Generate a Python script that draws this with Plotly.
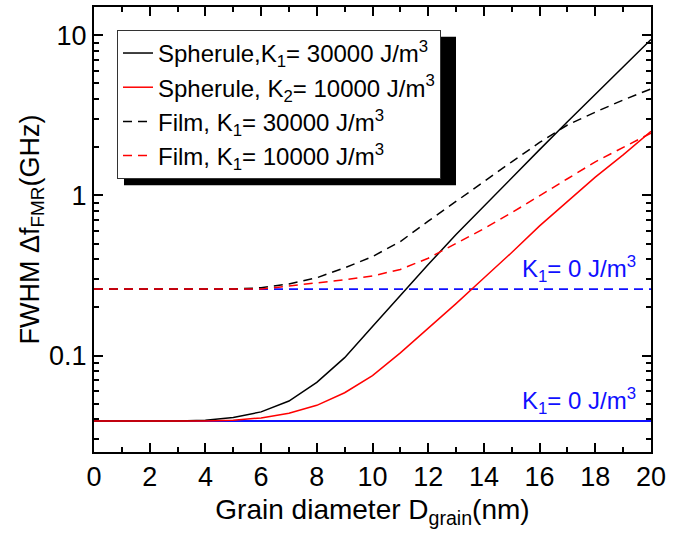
import math
import plotly.graph_objects as go

# Grain diameter (nm)
d_grain = list(range(0, 21))

# FWHM (GHz)
sph_k30000 = [0.039, 0.039, 0.039, 0.039, 0.0395, 0.041, 0.0445, 0.052, 0.068, 0.097,
              0.152, 0.239, 0.37, 0.57, 0.86, 1.29, 1.93, 2.88, 4.27, 6.3, 9.4]
sph_k10000 = [0.039, 0.039, 0.039, 0.039, 0.039, 0.0395, 0.0408, 0.0436, 0.0489, 0.0586,
              0.075, 0.104, 0.148, 0.211, 0.305, 0.44, 0.645, 0.92, 1.30, 1.79, 2.51]
film_k30000 = [0.26, 0.26, 0.26, 0.26, 0.26, 0.26, 0.265, 0.28, 0.306, 0.353,
               0.415, 0.515, 0.69, 0.92, 1.23, 1.62, 2.14, 2.75, 3.31, 3.94, 4.62]
film_k10000 = [0.26, 0.26, 0.26, 0.26, 0.26, 0.26, 0.26, 0.272, 0.283, 0.297,
               0.314, 0.345, 0.405, 0.50, 0.62, 0.78, 0.99, 1.27, 1.62, 2.0, 2.45]

# K1 = 0 reference levels
ref_x = [0, 20]
sph_k0 = 0.039
film_k0 = 0.26

FONT = "Liberation Sans, Arial, sans-serif"

fig = go.Figure()
fig.add_trace(go.Scatter(x=ref_x, y=[sph_k0, sph_k0], mode="lines",
                         line=dict(color="#1010ff", width=2), showlegend=False))
fig.add_trace(go.Scatter(x=ref_x, y=[film_k0, film_k0], mode="lines",
                         line=dict(color="#1010ff", width=1.7, dash="9px,6px"), showlegend=False))
fig.add_trace(go.Scatter(x=d_grain, y=sph_k30000, mode="lines",
                         name="Spherule,K<sub>1</sub>= 30000 J/m<sup>3</sup>",
                         line=dict(color="black", width=1.5)))
fig.add_trace(go.Scatter(x=d_grain, y=sph_k10000, mode="lines",
                         name="Spherule, K<sub>2</sub>= 10000 J/m<sup>3</sup>",
                         line=dict(color="red", width=1.5)))
fig.add_trace(go.Scatter(x=d_grain, y=film_k30000, mode="lines",
                         name="Film, K<sub>1</sub>= 30000 J/m<sup>3</sup>",
                         line=dict(color="black", width=1.5, dash="9px,6px")))
fig.add_trace(go.Scatter(x=d_grain, y=film_k10000, mode="lines",
                         name="Film, K<sub>1</sub>= 10000 J/m<sup>3</sup>",
                         line=dict(color="red", width=1.5, dash="9px,6px")))

for lvl in (sph_k0, film_k0):
    fig.add_annotation(x=19.55, y=math.log10(lvl), xref="x", yref="y",
                       text="K<sub>1</sub>= 0 J/m<sup>3</sup>", showarrow=False,
                       xanchor="right", yanchor="bottom", yshift=1,
                       font=dict(family=FONT, size=24, color="#1010ff"))

minor_y = [v * 10 ** e for e in (-2, -1, 0, 1) for v in range(2, 10)]
minor_y = [v for v in minor_y if 0.025 <= v <= 15]

fig.update_xaxes(range=[0, 20], tickvals=list(range(0, 21, 2)),
                 ticks="inside", ticklen=9, tickwidth=1.5, tickcolor="black",
                 showline=True, linewidth=2, linecolor="black", mirror="allticks",
                 showgrid=False, zeroline=False,
                 minor=dict(dtick=1, ticks="inside", ticklen=5, tickwidth=1.5, tickcolor="black", showgrid=False),
                 tickfont=dict(family=FONT, size=27, color="black"),
                 title=dict(text="Grain diameter D<sub>grain</sub>(nm)",
                            font=dict(family=FONT, size=28, color="black"), standoff=8))
fig.update_yaxes(type="log", range=[math.log10(0.025), math.log10(15)],
                 tickvals=[0.1, 1, 10], ticktext=["0.1", "1", "10"],
                 ticks="inside", ticklen=9, tickwidth=1.5, tickcolor="black",
                 showline=True, linewidth=2, linecolor="black", mirror="allticks",
                 showgrid=False, zeroline=False,
                 minor=dict(tickvals=minor_y, ticks="inside", ticklen=5, tickwidth=1.5, tickcolor="black", showgrid=False),
                 tickfont=dict(family=FONT, size=27, color="black"),
                 title=dict(text="FWHM \u0394f<sub>FMR</sub>(GHz)",
                            font=dict(family=FONT, size=27, color="black"), standoff=2))

fig.update_layout(
    width=695, height=539,
    margin=dict(l=94, r=44, t=5, b=87),
    plot_bgcolor="white", paper_bgcolor="white",
    font=dict(family=FONT, color="black"),
    legend=dict(x=0.0413, y=0.9485, xanchor="left", yanchor="top",
                bgcolor="white", bordercolor="#333333", borderwidth=1,
                font=dict(family=FONT, size=24, color="black"),
                tracegroupgap=0),
    shapes=[dict(type="rect", xref="paper", yref="paper",
                 x0=(124 - 94) / 557, x1=(456 - 94) / 557,
                 y0=(452 - 184) / 447, y1=(452 - 35) / 447,
                 fillcolor="black", line=dict(width=0), layer="above")],
)

fig.write_html("out.html")
